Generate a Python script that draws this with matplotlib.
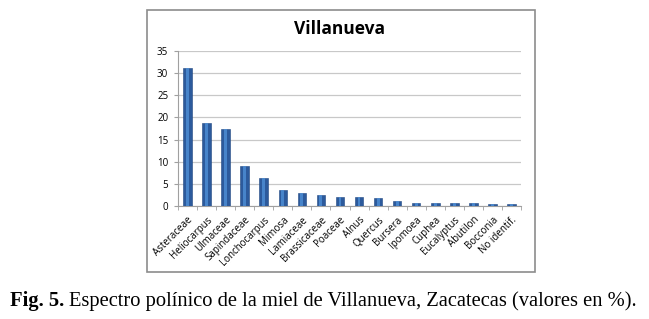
import numpy as np
import matplotlib.pyplot as plt
from matplotlib.patches import Rectangle

taxa = ['Asteraceae', 'Heliocarpus', 'Ulmaceae', 'Sapindaceae', 'Lonchocarpus',
        'Mimosa', 'Lamiaceae', 'Brassicaceae', 'Poaceae', 'Alnus', 'Quercus',
        'Bursera', 'Ipomoea', 'Cuphea', 'Eucalyptus', 'Abutilon', 'Bocconia',
        'No identif.']
percent = [31.2, 18.8, 17.4, 9.0, 6.4, 3.7, 2.9, 2.5, 2.0, 2.0, 1.7,
           1.1, 0.75, 0.75, 0.75, 0.75, 0.4, 0.4]
yticks = [0, 5, 10, 15, 20, 25, 30, 35]

W, H = 649, 319
fig = plt.figure(figsize=(W / 100, H / 100), dpi=100)

# chart frame
fig.patches.append(Rectangle((147 / W, 1 - 272 / H), (535 - 147) / W, (272 - 10) / H,
                             transform=fig.transFigure, fill=False,
                             edgecolor='#8c8c8c', linewidth=1.2))

ax = fig.add_axes([178 / W, 1 - 206 / H, (521 - 178) / W, (206 - 51) / H])
x = np.arange(len(taxa))
ax.bar(x, percent, width=0.45, color='#2c5a9c', edgecolor='#1f4680', linewidth=0.4, zorder=3)
ax.bar(x, percent, width=0.15, color='#4f8fd6', alpha=0.8, linewidth=0, zorder=4)

ax.set_xlim(-0.5, len(taxa) - 0.5)
ax.set_ylim(0, 35)
ax.set_yticks(yticks)
ax.grid(axis='y', color='#c8c8c8', linewidth=0.9, zorder=0)
for s in ['top', 'right']:
    ax.spines[s].set_visible(False)
ax.spines['left'].set_color('#a0a0a0')
ax.spines['bottom'].set_color('#a0a0a0')
ax.tick_params(axis='y', length=3, color='#a0a0a0', labelsize=7, pad=4)
ax.set_xticks(x)
ax.set_xticklabels(taxa, rotation=45, ha='right', rotation_mode='anchor',
                   fontsize=7, family='Open Sans')
ax.tick_params(axis='x', length=0, pad=6)
ax.set_xticks(np.arange(-0.5, len(taxa)), minor=True)
ax.tick_params(axis='x', which='minor', length=3, color='#a0a0a0')
for lab in ax.get_yticklabels():
    lab.set_family('Open Sans')

fig.text(340 / W, 1 - 29 / H, 'Villanueva', ha='center', va='center',
         fontsize=12.5, fontweight='bold', family='Open Sans')

# caption: bold figure number followed by regular text
t1 = fig.text(10 / W, 1 - 301 / H, 'Fig. 5.', ha='left', va='center',
              fontsize=14.8, fontweight='bold', family='Liberation Serif')
fig.canvas.draw()
bb = t1.get_window_extent()
fig.text((bb.x1 + 5) / W, 1 - 301 / H,
         'Espectro polínico de la miel de Villanueva, Zacatecas (valores en %).',
         ha='left', va='center', fontsize=14.8, family='Liberation Serif')

fig.savefig('out.png', dpi=100)
